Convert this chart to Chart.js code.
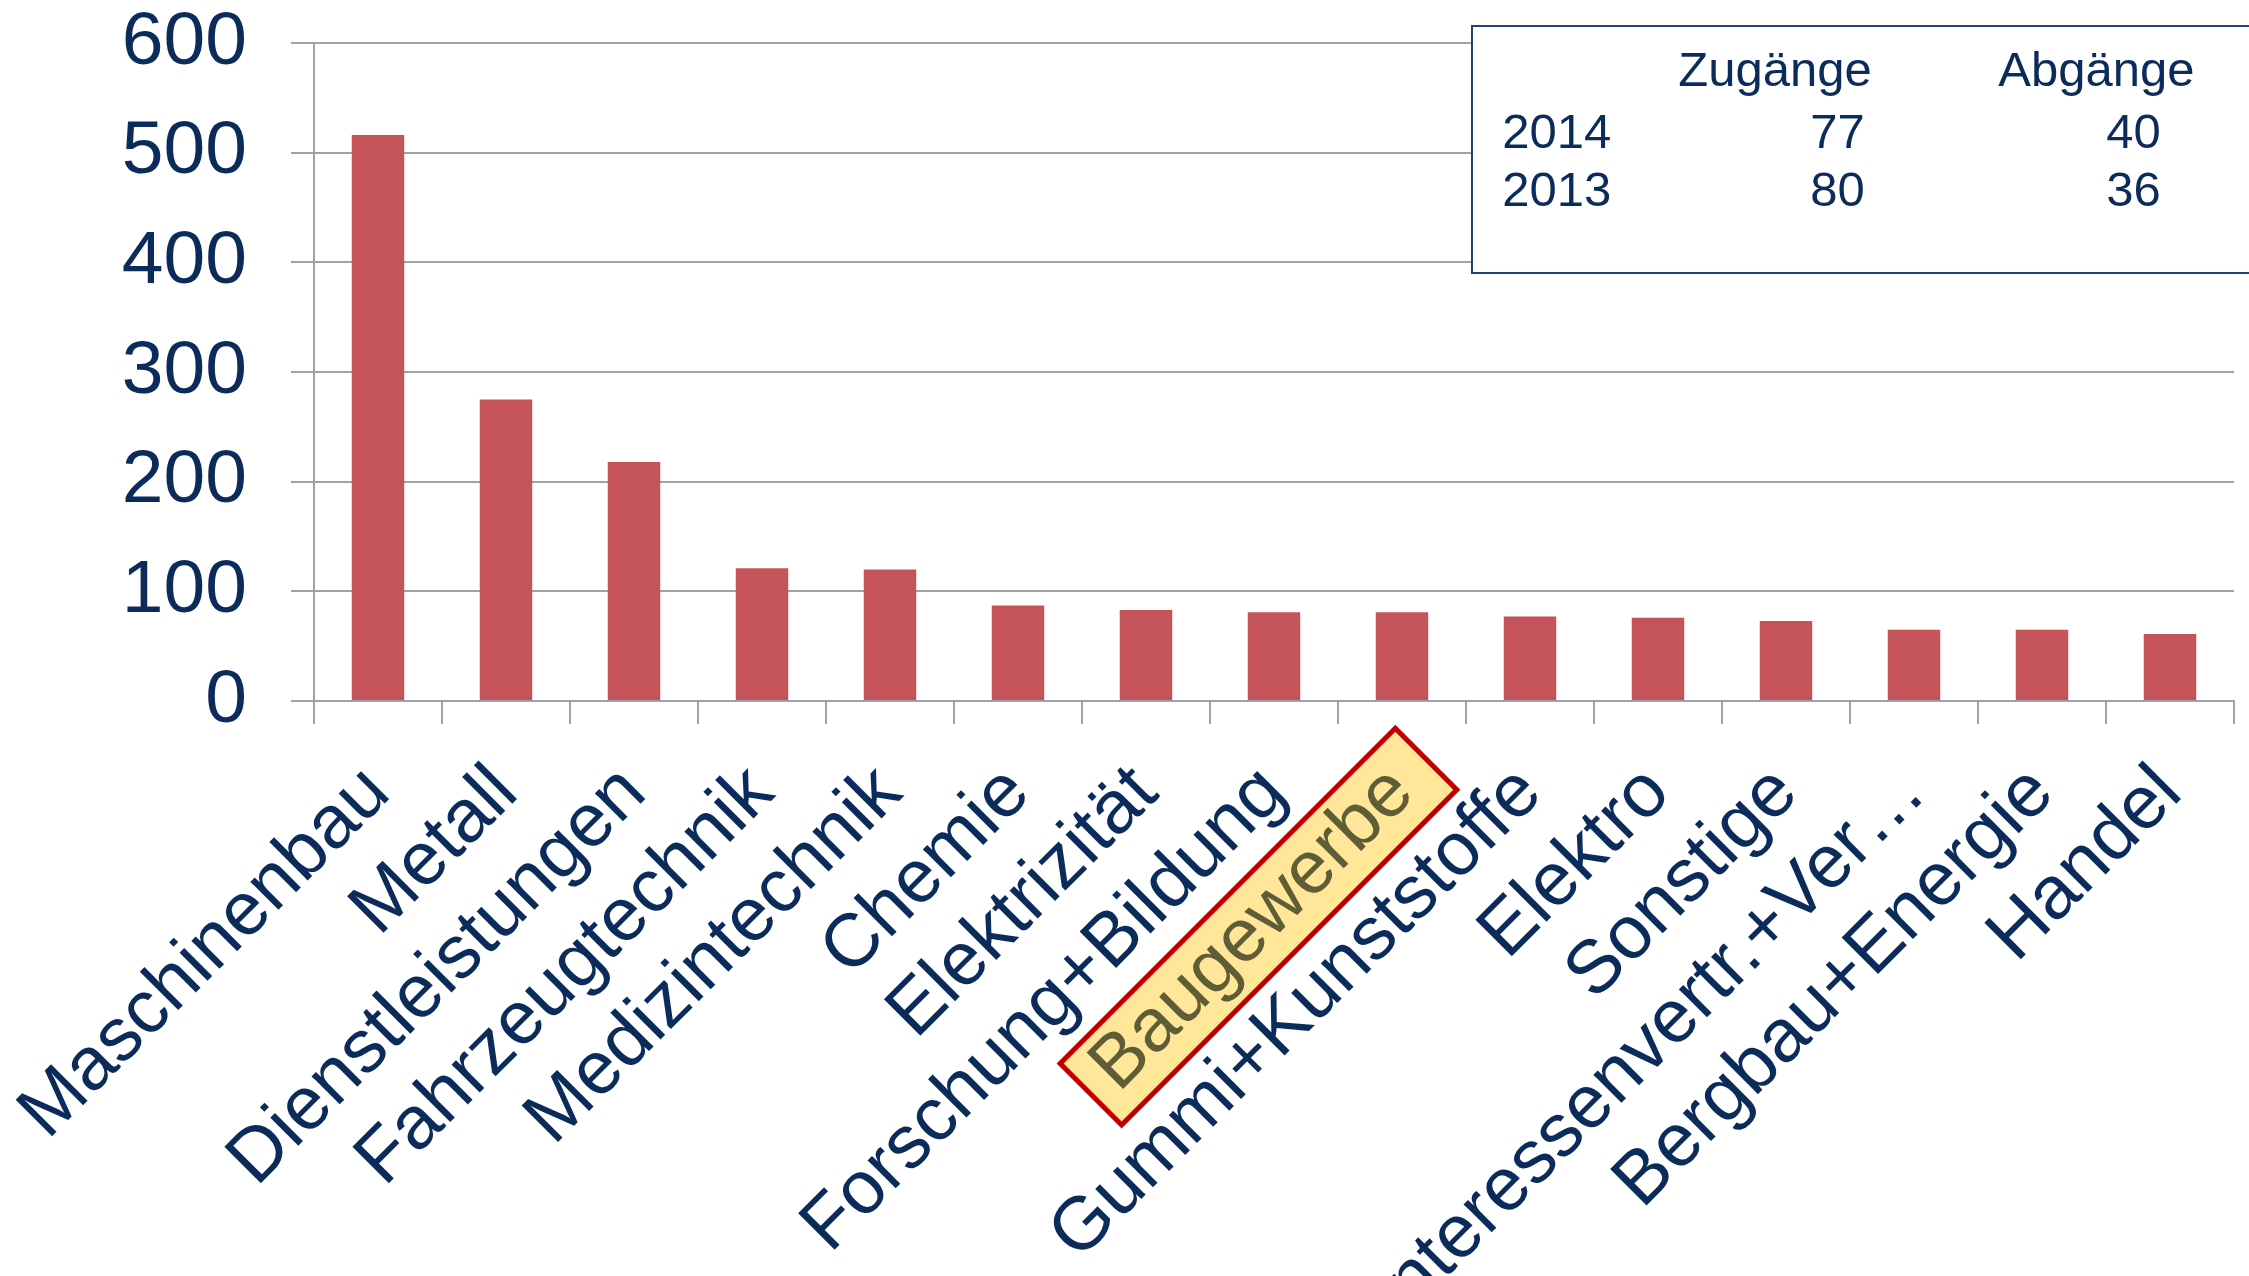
<!DOCTYPE html>
<html>
<head>
<meta charset="utf-8">
<script src="https://cdn.jsdelivr.net/npm/chart.js@4/dist/chart.umd.min.js"></script>
<style>
  html, body { margin: 0; padding: 0; background: #fff; overflow: hidden; }
  #wrap { position: relative; width: 2249px; height: 1276px; }
  #chart { position: absolute; left: 0; top: 0; }
  #stats {
    position: absolute; left: 1471px; top: 25px; width: 820px; height: 249px;
    border: 2.7px solid #1f4173; background: #fff; box-sizing: border-box;
    font-family: "Liberation Sans", Arial, sans-serif; font-size: 49px; color: #0b2b5b;
  }
  #stats div { position: absolute; line-height: 49px; white-space: nowrap; }
</style>
</head>
<body>
<div id="wrap">
  <canvas id="chart" width="2249" height="1276"></canvas>
  <div id="stats"></div>
</div>
<script>
const categories = [
  "Maschinenbau", "Metall", "Dienstleistungen", "Fahrzeugtechnik",
  "Medizintechnik", "Chemie", "Elektrizität", "Forschung+Bildung",
  "Baugewerbe", "Gummi+Kunststoffe", "Elektro", "Sonstige",
  "Interessenvertr.+Ver…", "Bergbau+Energie", "Handel",
];
const values = [516, 275, 218, 121, 120, 87, 83, 81, 81, 77, 76, 73, 65, 65, 61];
const yTicks = [0, 100, 200, 300, 400, 500, 600];
const highlighted = "Baugewerbe";

// small table in the top right corner
const tableHeader = ["Zugänge", "Abgänge"];
const tableYears = ["2014", "2013"];
const zugaenge = [77, 80];
const abgaenge = [40, 36];

const navy = "#0b2b5b";
const gridGray = "#9ea2ae";
const font = "'Liberation Sans', Arial, sans-serif";

// build the table as plain positioned text (offsets relative to the box)
const stats = document.getElementById("stats");
function put(text, left, baseline, alignRight) {
  const d = document.createElement("div");
  d.textContent = text;
  d.style.top = (baseline - 41.5 - 27.7) + "px";
  if (alignRight) d.style.right = (820 - 2.7 - left) + "px";
  else d.style.left = (left - 2.7) + "px";
  stats.appendChild(d);
}
put(tableHeader[0], 1679 - 1471, 87);
put(tableHeader[1], 1999 - 1471, 87);
tableYears.forEach((yr, i) => {
  const base = 149 + i * 58.5;
  put(yr, 1503 - 1471, base);
  put(String(zugaenge[i]), 1864 - 1471, base, true);
  put(String(abgaenge[i]), 2160 - 1471, base, true);
});

// yellow box with red frame behind the highlighted category label
const highlightBox = {
  id: "highlightBox",
  beforeDraw(chart) {
    const x = chart.scales.x;
    const px = x.getPixelForTick(categories.indexOf(highlighted));
    const { ctx } = chart;
    ctx.save();
    ctx.translate(px, x.top);
    ctx.rotate(-Math.PI / 4);
    const len = 474, wid = 87;
    const cx = -261, cy = 58;
    ctx.fillStyle = "#ffe699";
    ctx.fillRect(cx - len / 2, cy - wid / 2, len, wid);
    ctx.strokeStyle = "#c00000";
    ctx.lineWidth = 5;
    ctx.strokeRect(cx - len / 2, cy - wid / 2, len, wid);
    ctx.restore();
  },
};

// eslint-disable-next-line no-new
new Chart(document.getElementById("chart"), {
  type: "bar",
  plugins: [highlightBox],
  data: {
    labels: categories,
    datasets: [
      {
        data: values,
        backgroundColor: "#c5535a",
        categoryPercentage: 1,
        barPercentage: 0.41,
      },
    ],
  },
  options: {
    responsive: false,
    animation: false,
    events: [],
    layout: { padding: { top: 43, right: 15, left: 0, bottom: 0 } },
    plugins: { legend: { display: false }, tooltip: { enabled: false } },
    scales: {
      x: {
        grid: {
          offset: true,
          drawOnChartArea: false,
          color: gridGray,
          lineWidth: 2,
          tickLength: 23,
        },
        border: { color: gridGray, width: 2 },
        ticks: {
          autoSkip: false,
          maxRotation: 45,
          minRotation: 45,
          padding: 25,
          font: { family: font, size: 75 },
          color: (c) => (categories[c.index] === highlighted ? "#5f5d36" : navy),
        },
        afterFit: (scale) => {
          scale.height = 575;
          scale.paddingLeft = 0;
          scale.paddingRight = 0;
        },
      },
      y: {
        min: 0,
        max: 600,
        afterBuildTicks: (scale) => {
          scale.ticks = yTicks.map((v) => ({ value: v }));
        },
        grid: { color: gridGray, lineWidth: 2, tickLength: 23 },
        border: { color: gridGray, width: 2 },
        ticks: {
          padding: 44,
          font: { family: font, size: 75 },
          color: navy,
        },
        afterFit: (scale) => {
          scale.width = 314;
          scale.paddingTop = 0;
          scale.paddingBottom = 0;
        },
      },
    },
  },
});
</script>
</body>
</html>
